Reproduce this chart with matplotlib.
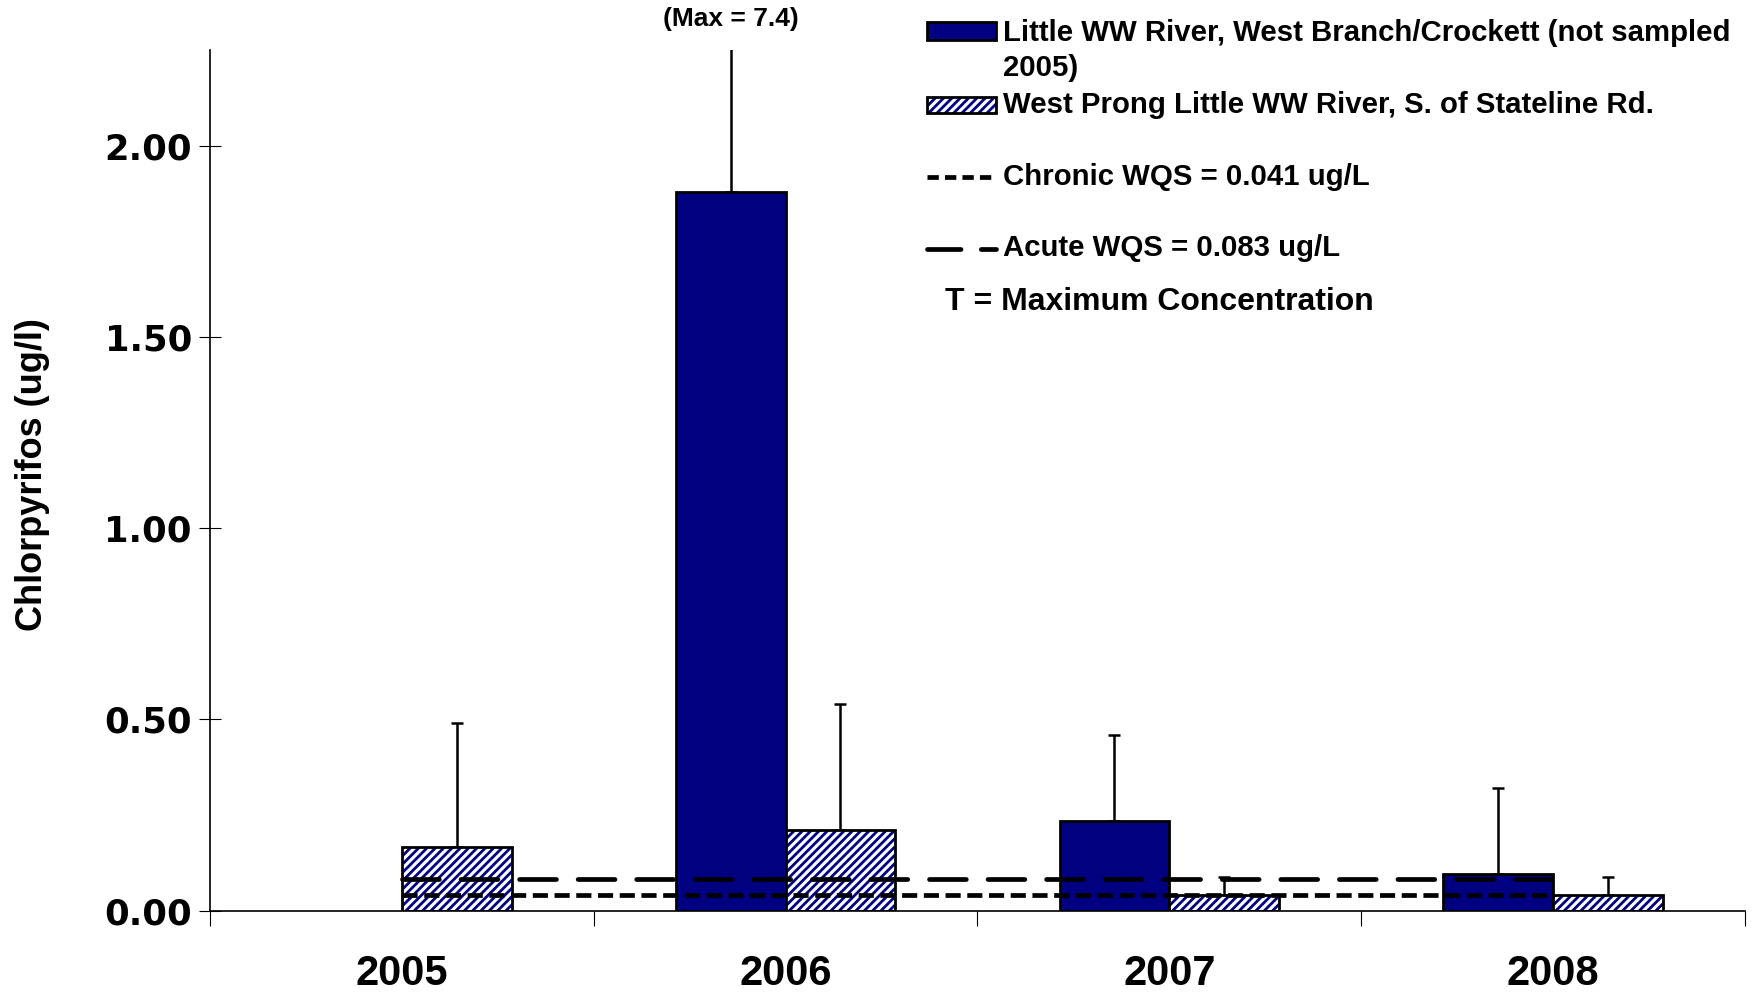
import numpy as np
import matplotlib
matplotlib.use('Agg')
import matplotlib.pyplot as plt
from matplotlib.patches import Rectangle
from matplotlib.lines import Line2D

# chlorpyrifos means and maximums per year (ug/l)
years = ['2005', '2006', '2007', '2008']
little_ww_mean = [np.nan, 1.88, 0.235, 0.095]
little_ww_max = [np.nan, 7.4, 0.46, 0.32]
west_prong_mean = [0.167, 0.21, 0.042, 0.042]
west_prong_max = [0.49, 0.54, 0.089, 0.088]
chronic_wqs = 0.041
acute_wqs = 0.083

little_label = 'Little WW River, West Branch/Crockett (not sampled'
little_label2 = '2005)'
prong_label = 'West Prong Little WW River, S. of Stateline Rd.'
chronic_label = 'Chronic WQS = 0.041 ug/L'
acute_label = 'Acute WQS = 0.083 ug/L'

NAVY = '#000080'
plt.rcParams['font.family'] = ['Liberation Sans', 'DejaVu Sans']
plt.rcParams['font.weight'] = 'bold'
plt.rcParams['axes.labelweight'] = 'bold'
plt.rcParams['hatch.linewidth'] = 2.0

fig = plt.figure(figsize=(17.56, 9.94), dpi=100)
ax = fig.add_axes([0.1196, 0.0839, 0.8741, 0.8654])

x = np.arange(len(years))
w = 0.286
lw_mean = np.array(little_ww_mean)
lw_max = np.array(little_ww_max)
wp_mean = np.array(west_prong_mean)
wp_max = np.array(west_prong_max)
ok = ~np.isnan(lw_mean)

# navy bars
ax.bar(x[ok] - w / 2, lw_mean[ok], w, color=NAVY, edgecolor='black', linewidth=2, zorder=2)
ax.errorbar(x[ok] - w / 2, lw_mean[ok], yerr=[np.zeros(ok.sum()), lw_max[ok] - lw_mean[ok]],
            fmt='none', ecolor='black', elinewidth=1.8, capsize=4.5, capthick=1.8, zorder=1)

# hatched bars (navy hatch, black outline)
ax.bar(x + w / 2, wp_mean, w, color='white', edgecolor=NAVY, hatch='////', linewidth=0, zorder=2)
ax.bar(x + w / 2, wp_mean, w, color='none', edgecolor='black', linewidth=2, zorder=2)
ax.errorbar(x + w / 2, wp_mean, yerr=[np.zeros(len(x)), wp_max - wp_mean],
            fmt='none', ecolor='black', elinewidth=1.8, capsize=4.5, capthick=1.8, zorder=1)

# water quality standards
ax.plot(x, [chronic_wqs] * len(x), color='black', lw=3.4, dashes=(3.2, 1.4), zorder=3)
ax.plot(x, [acute_wqs] * len(x), color='black', lw=3.4, dashes=(7.8, 4.6),
        dash_capstyle='round', zorder=3)

ax.annotate('(Max = %.1f)' % little_ww_max[1], xy=(x[1] - w / 2, 1.036),
            xycoords=('data', 'axes fraction'), ha='center', va='center', fontsize=19)

ax.set_xlim(-0.5, len(years) - 0.5)
ax.set_ylim(0, 2.25)
ax.set_yticks([0, 0.5, 1.0, 1.5, 2.0])
ax.set_yticklabels(['%.2f' % v for v in [0, 0.5, 1.0, 1.5, 2.0]],
                   fontfamily='DejaVu Sans', fontsize=25.5)
ax.tick_params(axis='y', direction='inout', length=16, width=0.8, pad=5)
ax.set_xticks(x)
ax.set_xticklabels(years, fontsize=30)
ax.set_xticks(np.arange(len(years) + 1) - 0.5, minor=True)
ax.tick_params(axis='x', which='major', length=0, pad=31)
ax.tick_params(axis='x', which='minor', direction='out', length=11, width=0.8)

ax.set_ylabel('Chlorpyrifos (ug/l)', fontsize=26)
ax.yaxis.set_label_coords(-0.104, 0.507)

for s in ['top', 'right']:
    ax.spines[s].set_visible(False)
ax.spines['left'].set_linewidth(1.2)
ax.spines['bottom'].set_linewidth(1.2)

# legend drawn by hand to follow the original layout
hx0, hx1, tx = 0.528, 0.567, 0.571
fig.add_artist(Rectangle((hx0, 0.960), hx1 - hx0, 0.018, transform=fig.transFigure,
                         facecolor=NAVY, edgecolor='black', linewidth=2))
fig.text(tx, 0.967, little_label, fontsize=21.2, va='center')
fig.text(tx, 0.932, little_label2, fontsize=21.2, va='center')
fig.add_artist(Rectangle((hx0, 0.886), hx1 - hx0, 0.016, transform=fig.transFigure,
                         facecolor='white', edgecolor=NAVY, hatch='////', linewidth=0))
fig.add_artist(Rectangle((hx0, 0.886), hx1 - hx0, 0.016, transform=fig.transFigure,
                         facecolor='none', edgecolor='black', linewidth=2))
fig.text(tx, 0.894, prong_label, fontsize=21.2, va='center')
fig.add_artist(Line2D([hx0, hx1], [0.822, 0.822], transform=fig.transFigure,
                      color='black', lw=3.4, dashes=(2.4, 1.3)))
fig.text(tx, 0.822, chronic_label, fontsize=21.2, va='center')
fig.add_artist(Line2D([hx0, hx1], [0.750, 0.750], transform=fig.transFigure,
                      color='black', lw=3.4, dashes=(7.1, 4.3), dash_capstyle='round'))
fig.text(tx, 0.750, acute_label, fontsize=21.2, va='center')
fig.text(0.538, 0.696, 'T = Maximum Concentration', fontsize=23, va='center')

fig.savefig('out.png', dpi=100)
